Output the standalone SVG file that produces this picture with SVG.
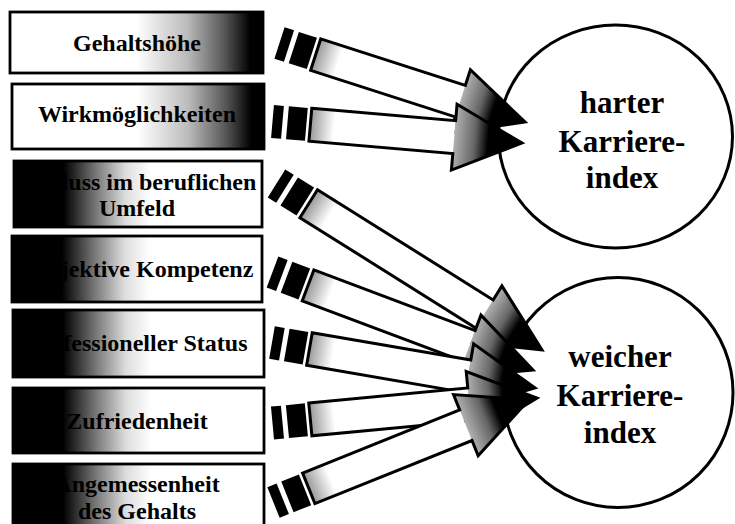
<svg xmlns="http://www.w3.org/2000/svg" width="735" height="524" viewBox="0 0 735 524">
<defs>
<style>
.box{stroke:#000;stroke-width:2.8}
.lbl{font-family:"Liberation Serif","Times New Roman",serif;font-weight:bold;font-size:24px;text-anchor:middle;fill:#000}
.clbl{font-family:"Liberation Serif","Times New Roman",serif;font-weight:bold;font-size:31px;text-anchor:middle;fill:#000}
.circ{fill:#fff;stroke:#000;stroke-width:3}
.stripe{fill:#000}
.outline{fill:none;stroke:#000;stroke-width:3;stroke-linejoin:miter;stroke-miterlimit:10}
</style>
<linearGradient id="gradR" x1="0" y1="0" x2="1" y2="0">
<stop offset="0" stop-color="#fff"/>
<stop offset="0.5" stop-color="#fff"/>
<stop offset="0.7" stop-color="#bbb"/>
<stop offset="0.85" stop-color="#555"/>
<stop offset="0.95" stop-color="#000"/>
<stop offset="1" stop-color="#000"/>
</linearGradient>
<linearGradient id="gradL" x1="0" y1="0" x2="1" y2="0">
<stop offset="0" stop-color="#000"/>
<stop offset="0.2" stop-color="#000"/>
<stop offset="0.33" stop-color="#777"/>
<stop offset="0.45" stop-color="#ddd"/>
<stop offset="0.55" stop-color="#fff"/>
<stop offset="1" stop-color="#fff"/>
</linearGradient>
<linearGradient id="shaftG" gradientUnits="userSpaceOnUse" x1="38" y1="0" x2="62" y2="0">
<stop offset="0" stop-color="#999"/>
<stop offset="1" stop-color="#fff"/>
</linearGradient>
<linearGradient id="headG" gradientUnits="userSpaceOnUse" x1="-68" y1="0" x2="0" y2="0">
<stop offset="0" stop-color="#b0b0b0"/>
<stop offset="0.3" stop-color="#666"/>
<stop offset="0.5" stop-color="#000"/>
<stop offset="1" stop-color="#000"/>
</linearGradient>
</defs>

<g id="node-harter">
<ellipse class="circ" cx="615.5" cy="136.5" rx="117" ry="111.5"/>
<text class="clbl" x="622" y="113">harter</text>
<text class="clbl" x="622" y="152">Karriere-</text>
<text class="clbl" x="622" y="188">index</text>
</g>

<g id="node-weicher">
<ellipse class="circ" cx="618" cy="392.5" rx="115" ry="115"/>
<text class="clbl" x="620" y="367">weicher</text>
<text class="clbl" x="620" y="406">Karriere-</text>
<text class="clbl" x="620" y="443">index</text>
</g>

<g id="node-gehalt">
<rect class="box" x="10" y="12" width="253" height="61" fill="url(#gradR)"/>
<text class="lbl" x="137" y="51">Gehaltshöhe</text>
</g>
<g id="node-wirk">
<rect class="box" x="12" y="84" width="252" height="65" fill="url(#gradR)"/>
<text class="lbl" x="137" y="122">Wirkmöglichkeiten</text>
</g>
<g id="node-einfluss">
<rect class="box" x="14" y="161" width="248" height="66" fill="url(#gradL)"/>
<text class="lbl" x="137" y="190">Einfluss im beruflichen</text>
<text class="lbl" x="137" y="216">Umfeld</text>
</g>
<g id="node-kompetenz">
<rect class="box" x="12" y="236" width="250" height="66" fill="url(#gradL)"/>
<text class="lbl" x="137" y="277">Subjektive Kompetenz</text>
</g>
<g id="node-status">
<rect class="box" x="13" y="310" width="251" height="67" fill="url(#gradL)"/>
<text class="lbl" x="137" y="351">Professioneller Status</text>
</g>
<g id="node-zufriedenheit">
<rect class="box" x="13" y="388" width="251" height="65" fill="url(#gradL)"/>
<text class="lbl" x="137" y="429">Zufriedenheit</text>
</g>
<g id="node-angemessenheit">
<rect class="box" x="13" y="464" width="251" height="72" fill="url(#gradL)"/>
<text class="lbl" x="137" y="492">Angemessenheit</text>
<text class="lbl" x="137" y="519">des Gehalts</text>
</g>

<g id="connectors">
<g id="arrow-1" transform="translate(279.5,43) rotate(17.84)">
<rect class="stripe" x="0" y="-16.5" width="10" height="33"/>
<rect class="stripe" x="15" y="-16.5" width="19" height="33"/>
<rect x="38" y="-16.5" width="151.9" height="33" fill="url(#shaftG)"/>
<g transform="translate(257.9,0)"><polygon points="0,0 -68,-33 -68,33" fill="url(#headG)"/></g>
<path class="outline" d="M38,-16.5 H189.9 V-33 L257.9,0 L189.9,33 V16.5 H38 Z"/>
</g>
<g id="arrow-2" transform="translate(272.5,121.5) rotate(4.93)">
<rect class="stripe" x="0" y="-16.5" width="10" height="33"/>
<rect class="stripe" x="15" y="-16.5" width="19" height="33"/>
<rect x="38" y="-16.5" width="144.4" height="33" fill="url(#shaftG)"/>
<g transform="translate(250.4,0)"><polygon points="0,0 -68,-33 -68,33" fill="url(#headG)"/></g>
<path class="outline" d="M38,-16.5 H182.4 V-33 L250.4,0 L182.4,33 V16.5 H38 Z"/>
</g>
<g id="arrow-3" transform="translate(276.5,183.5) rotate(32.1)">
<rect class="stripe" x="0" y="-16.5" width="10" height="33"/>
<rect class="stripe" x="15" y="-16.5" width="19" height="33"/>
<rect x="38" y="-16.5" width="207.4" height="33" fill="url(#shaftG)"/>
<g transform="translate(313.4,0)"><polygon points="0,0 -68,-33 -68,33" fill="url(#headG)"/></g>
<path class="outline" d="M38,-16.5 H245.4 V-33 L313.4,0 L245.4,33 V16.5 H38 Z"/>
</g>
<g id="arrow-4" transform="translate(272.5,272) rotate(20.6)">
<rect class="stripe" x="0" y="-16.5" width="10" height="33"/>
<rect class="stripe" x="15" y="-16.5" width="19" height="33"/>
<rect x="38" y="-16.5" width="172.3" height="33" fill="url(#shaftG)"/>
<g transform="translate(278.3,0)"><polygon points="0,0 -68,-33 -68,33" fill="url(#headG)"/></g>
<path class="outline" d="M38,-16.5 H210.3 V-33 L278.3,0 L210.3,33 V16.5 H38 Z"/>
</g>
<g id="arrow-5" transform="translate(272,342.5) rotate(9.8)">
<rect class="stripe" x="0" y="-16.5" width="10" height="33"/>
<rect class="stripe" x="15" y="-16.5" width="19" height="33"/>
<rect x="38" y="-16.5" width="160.9" height="33" fill="url(#shaftG)"/>
<g transform="translate(266.9,0)"><polygon points="0,0 -68,-33 -68,33" fill="url(#headG)"/></g>
<path class="outline" d="M38,-16.5 H198.9 V-33 L266.9,0 L198.9,33 V16.5 H38 Z"/>
</g>
<g id="arrow-6" transform="translate(272.5,423) rotate(-5.4)">
<rect class="stripe" x="0" y="-16.5" width="10" height="33"/>
<rect class="stripe" x="15" y="-16.5" width="19" height="33"/>
<rect x="38" y="-16.5" width="159.7" height="33" fill="url(#shaftG)"/>
<g transform="translate(265.7,0)"><polygon points="0,0 -68,-33 -68,33" fill="url(#headG)"/></g>
<path class="outline" d="M38,-16.5 H197.7 V-33 L265.7,0 L197.7,33 V16.5 H38 Z"/>
</g>
<g id="arrow-7" transform="translate(273.5,502.5) rotate(-21.9)">
<rect class="stripe" x="0" y="-16.5" width="10" height="33"/>
<rect class="stripe" x="15" y="-16.5" width="19" height="33"/>
<rect x="38" y="-16.5" width="169.3" height="33" fill="url(#shaftG)"/>
<g transform="translate(275.3,0)"><polygon points="0,0 -68,-33 -68,33" fill="url(#headG)"/></g>
<path class="outline" d="M38,-16.5 H207.3 V-33 L275.3,0 L207.3,33 V16.5 H38 Z"/>
</g>
</g>
</svg>
